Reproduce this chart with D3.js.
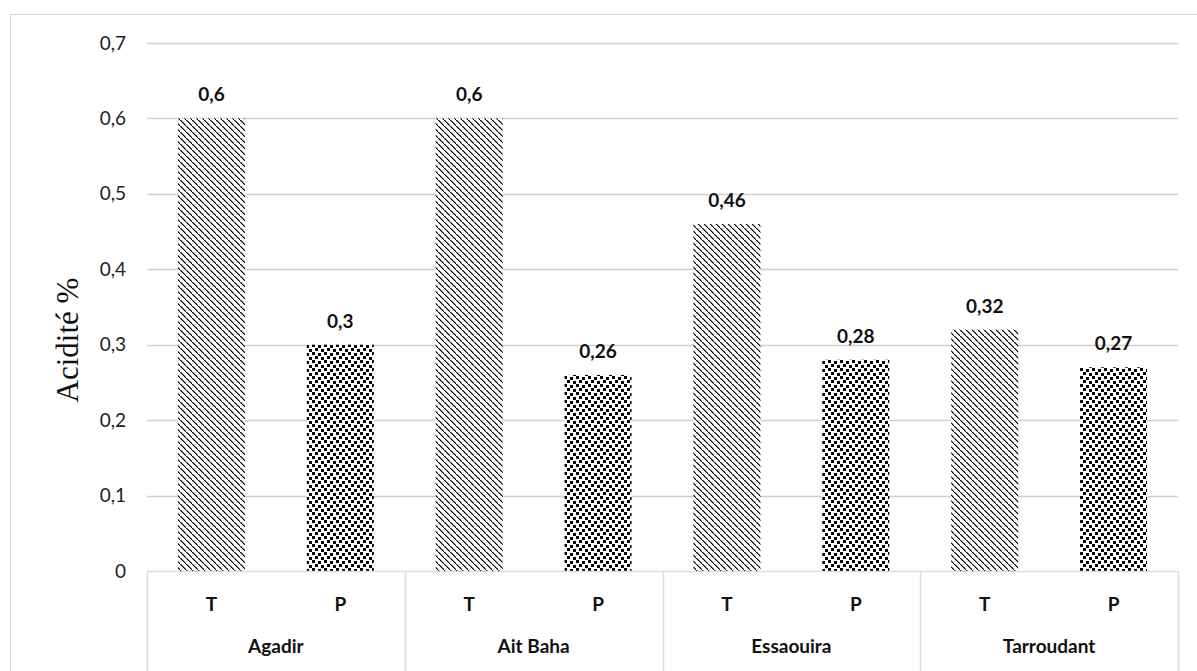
<!DOCTYPE html>
<html>
<head>
<meta charset="utf-8">
<script src="https://cdn.jsdelivr.net/npm/d3@7"></script>
<style>
  body { margin: 0; background: #fff; }
  svg { display: block; }
</style>
</head>
<body>
<svg id="chart" width="1197" height="671"></svg>
<script>
// Acidity by site and sample type
const sites = ["Agadir", "Ait Baha", "Essaouira", "Tarroudant"];
const types = ["T", "P"];
const valuesT = [0.6, 0.6, 0.46, 0.32];
const valuesP = [0.3, 0.26, 0.28, 0.27];
const labelsT = ["0,6", "0,6", "0,46", "0,32"];
const labelsP = ["0,3", "0,26", "0,28", "0,27"];
const yTicks = [0, 0.1, 0.2, 0.3, 0.4, 0.5, 0.6, 0.7];
const yTickLabels = ["0", "0,1", "0,2", "0,3", "0,4", "0,5", "0,6", "0,7"];
const yTitle = "Acidité %";

const rows = [];
sites.forEach((s, i) => {
  rows.push({ site: s, type: "T", value: valuesT[i], label: labelsT[i] });
  rows.push({ site: s, type: "P", value: valuesP[i], label: labelsP[i] });
});

const svg = d3.select("#chart");
const plotLeft = 147, plotRight = 1178, plotTop = 43, plotBottom = 571;
const font = "Lato, 'Open Sans', sans-serif";
const fs = 19;

// chart frame
svg.append("rect").attr("x", 10.5).attr("y", 14.5).attr("width", 1200).attr("height", 700)
  .attr("fill", "#fff").attr("stroke", "#d9d9d9").attr("stroke-width", 1);

// fill patterns
const defs = svg.append("defs");
const diag = defs.append("pattern").attr("id", "diag").attr("patternUnits", "userSpaceOnUse")
  .attr("width", 6).attr("height", 6);
diag.append("rect").attr("width", 6).attr("height", 6).attr("fill", "#fff");
[0, 1, 2, 3, 4, 5].forEach(k => {
  diag.append("rect").attr("x", k).attr("y", k).attr("width", 1.5).attr("height", 1.1).attr("fill", "#000");
});

const conf = defs.append("pattern").attr("id", "conf").attr("patternUnits", "userSpaceOnUse")
  .attr("width", 12).attr("height", 8);
conf.append("rect").attr("width", 12).attr("height", 8).attr("fill", "#fff");
[[0, 0], [6, 1], [3, 4], [9, 5]].forEach(([x, y]) => {
  conf.append("rect").attr("x", x).attr("y", y).attr("width", 3).attr("height", 3).attr("fill", "#000");
});

const y = d3.scaleLinear().domain([0, 0.7]).range([plotBottom, plotTop]);
const x0 = d3.scaleBand().domain(sites).range([plotLeft, plotRight]).padding(0);
const x1 = d3.scaleBand().domain(types).range([0, x0.bandwidth()]).paddingInner(0.48).paddingOuter(0.24);

// gridlines
svg.append("g").selectAll("line").data(yTicks.slice(1)).join("line")
  .attr("x1", plotLeft).attr("x2", plotRight)
  .attr("y1", d => Math.round(y(d)) + 0.5).attr("y2", d => Math.round(y(d)) + 0.5)
  .attr("stroke", "#d0d0d0").attr("stroke-width", 1.5);

// y tick labels
const yAxis = d3.axisLeft(y).tickValues(yTicks).tickFormat((d, i) => yTickLabels[i]).tickSize(0).tickPadding(0);
const yg = svg.append("g").attr("transform", `translate(${plotLeft - 21},0)`).call(yAxis);
yg.select(".domain").remove();
yg.selectAll("text").attr("font-family", font).attr("font-size", fs).attr("fill", "#222");

// y title
svg.append("text").attr("transform", `translate(78,${340}) rotate(-90)`)
  .attr("text-anchor", "middle").attr("font-family", "'Liberation Serif', serif").attr("font-size", 31)
  .attr("fill", "#111").text(yTitle);

// bars
svg.append("g").selectAll("rect").data(rows).join("rect")
  .attr("x", d => x0(d.site) + x1(d.type))
  .attr("width", x1.bandwidth())
  .attr("y", d => y(d.value))
  .attr("height", d => y(0) - y(d.value))
  .attr("fill", d => d.type === "T" ? "url(#diag)" : "url(#conf)");

// value labels
svg.append("g").selectAll("text").data(rows).join("text")
  .attr("x", d => x0(d.site) + x1(d.type) + x1.bandwidth() / 2)
  .attr("y", d => y(d.value) - 17)
  .attr("text-anchor", "middle").attr("font-family", font).attr("font-size", fs)
  .attr("font-weight", "bold").attr("fill", "#111").text(d => d.label);

// category axis
const axisColor = "#d9dde3";
svg.append("line").attr("x1", plotLeft).attr("x2", plotRight).attr("y1", plotBottom + 0.5).attr("y2", plotBottom + 0.5)
  .attr("stroke", axisColor).attr("stroke-width", 1.5);
const seps = sites.map(s => x0(s)).concat([plotRight]);
svg.append("g").selectAll("line").data(seps).join("line")
  .attr("x1", d => Math.round(d) + 0.5).attr("x2", d => Math.round(d) + 0.5)
  .attr("y1", plotBottom).attr("y2", 671)
  .attr("stroke", axisColor).attr("stroke-width", 1.5);

// type labels
svg.append("g").selectAll("text").data(rows).join("text")
  .attr("x", d => x0(d.site) + x1(d.type) + x1.bandwidth() / 2)
  .attr("y", 611)
  .attr("text-anchor", "middle").attr("font-family", font).attr("font-size", fs)
  .attr("font-weight", "bold").attr("fill", "#111").text(d => d.type);

// site labels
svg.append("g").selectAll("text").data(sites).join("text")
  .attr("x", d => x0(d) + x0.bandwidth() / 2)
  .attr("y", 653)
  .attr("text-anchor", "middle").attr("font-family", font).attr("font-size", fs)
  .attr("font-weight", "bold").attr("fill", "#111").text(d => d);
</script>
</body>
</html>
